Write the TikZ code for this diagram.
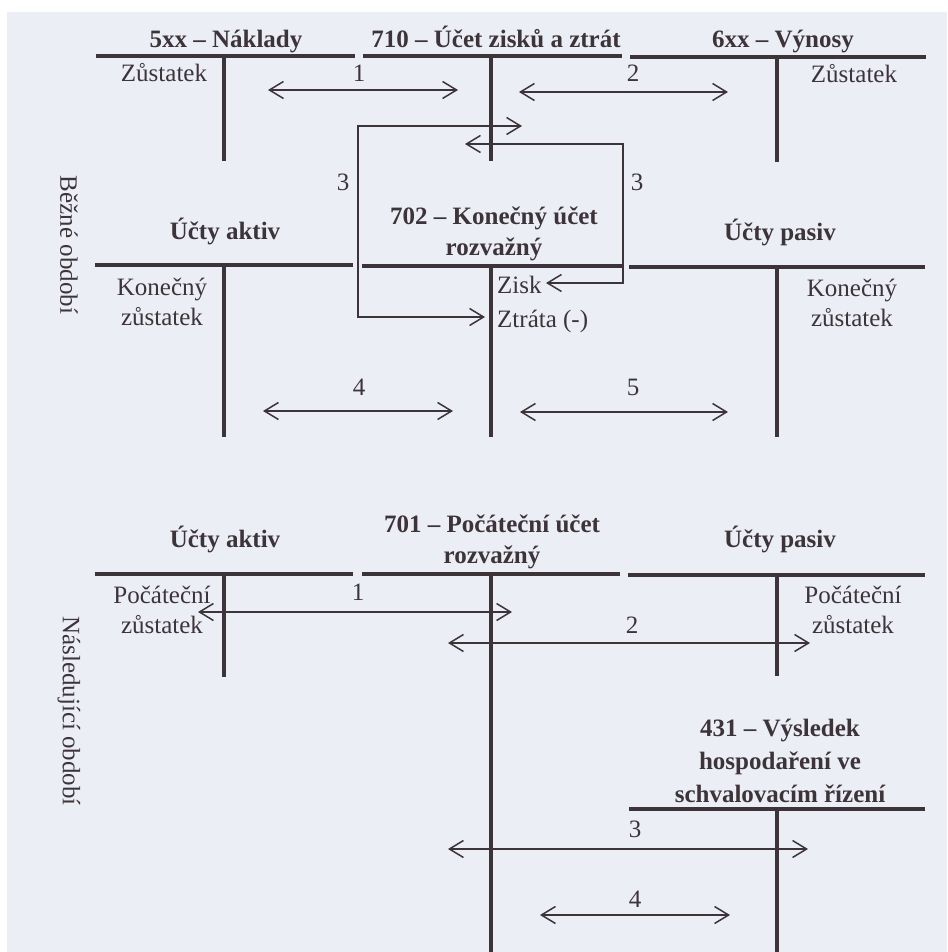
\documentclass[tikz,border=0pt]{standalone}
\usepackage{fontspec}
\setmainfont{Liberation Serif}
\usetikzlibrary{arrows.meta, calc, positioning}
\definecolor{inkoust}{HTML}{3C3438}
\definecolor{papir}{HTML}{ECEEF6}

\begin{document}
\begin{tikzpicture}[x=1pt, y=-1pt, >={Straight Barb[length=14pt, width=17pt]},
  every node/.style={font=\fontsize{25}{30}\selectfont, text=inkoust, inner sep=0pt, anchor=base},
  nazev/.style={font=\fontsize{25}{31}\selectfont\bfseries, align=center},
  osa/.style={line width=4pt, inkoust},
  stred/.style={line width=3.2pt, inkoust},
  sipka/.style={<->, line width=1.5pt, inkoust},
  obdobi/.style={rotate=-90, anchor=center}]

  % === PAPIR ===
  \useasboundingbox (0,0) rectangle (947,952);
  \fill[white] (0,0) rectangle (947,952);
  \fill[papir] (7,12) rectangle (947,952);

  % Sloupce (svisle cary uctu)
  \pgfmathsetmacro{\xL}{224}
  \pgfmathsetmacro{\xS}{491}
  \pgfmathsetmacro{\xP}{777}

  % === BEZNE OBDOBI : 5xx, 710, 6xx ===
  \draw[osa] (96,56) -- (355,56);
  \draw[osa] (363,56) -- (622,56);
  \draw[osa] (630,57) -- (926,57);
  \draw[stred] (\xL,56) -- (\xL,161);
  \draw[stred] (\xS,56) -- (\xS,161);
  \draw[stred] (\xP,57) -- (\xP,162);

  \node[nazev] (naklady) at (226,48) {5xx -- Náklady};
  \node[nazev] (vzz) at (496,48) {710 -- Účet zisků a ztrát};
  \node[nazev] (vynosy) at (783,48) {6xx -- Výnosy};
  \node (zustN) at (164,82) {Zůstatek};
  \node (zustV) at (854,83) {Zůstatek};

  \node (p1) at (359,82) {1};
  \node (p2) at (633,82) {2};
  \coordinate (a1l) at (268,90);
  \coordinate (a1r) at (458,90);
  \coordinate (a2l) at (519,92);
  \coordinate (a2r) at (728,92);
  \draw[sipka] (a1l) -- (a1r);
  \draw[sipka] (a2l) -- (a2r);

  % === BEZNE OBDOBI : aktiva, 702, pasiva ===
  \draw[osa] (95,265) -- (353,265);
  \draw[osa] (362,266) -- (622,266);
  \draw[osa] (629,267) -- (925,267);
  \draw[stred] (\xL,265) -- (\xL,437);
  \draw[stred] (\xS,266) -- (\xS,437);
  \draw[stred] (\xP,267) -- (\xP,437);

  % (u viceradkovych uzlu je base na poslednim radku)
  \node[nazev] (aktivK) at (225,239) {Účty aktiv};
  \node[nazev] (kur) at (494,255) {702 -- Konečný účet\\rozvažný};
  \node[nazev] (pasivK) at (780,240) {Účty pasiv};
  \node[align=center] (konA) at (162,325) {Konečný\\zůstatek};
  \node[align=center] (konP) at (852,326) {Konečný\\zůstatek};
  \node[anchor=base west] (zisk) at (497,293) {Zisk};
  \node[anchor=base west] (ztrata) at (497,327) {Ztráta (-)};

  % Prevod vysledku (3)
  \node (p3a) at (343,190) {3};
  \node (p3b) at (637,190) {3};
  \coordinate (ztrTo) at (522,126);
  \coordinate (ztrFrom) at (485,317);
  \coordinate (ziskTo) at (465,144);
  \coordinate (ziskFrom) at (546,283);
  \draw[sipka] (ztrTo) -- (358,126) |- (ztrFrom);
  \draw[sipka] (ziskTo) -- (623,144) |- (ziskFrom);

  \node (p4) at (359,395) {4};
  \node (p5) at (633,395) {5};
  \coordinate (a4l) at (263,411);
  \coordinate (a4r) at (453,411);
  \coordinate (a5l) at (520,412);
  \coordinate (a5r) at (728,412);
  \draw[sipka] (a4l) -- (a4r);
  \draw[sipka] (a5l) -- (a5r);

  % === NASLEDUJICI OBDOBI : aktiva, 701, pasiva ===
  \draw[osa] (95,574) -- (353,574);
  \draw[osa] (362,574) -- (620,574);
  \draw[osa] (628,575) -- (925,575);
  \draw[stred] (\xL,574) -- (\xL,677);
  \draw[stred] (\xS,574) -- (\xS,952);
  \draw[stred] (\xP,575) -- (\xP,676);

  \node[nazev] (aktivP) at (225,547) {Účty aktiv};
  \node[nazev] (pur) at (492,563) {701 -- Počáteční účet\\rozvažný};
  \node[nazev] (pasivP) at (780,547) {Účty pasiv};
  \node[align=center] (pocA) at (162,633) {Počáteční\\zůstatek};
  \node[align=center] (pocP) at (853,633) {Počáteční\\zůstatek};

  \node (q1) at (358,600) {1};
  \node (q2) at (632,633) {2};
  \coordinate (b1l) at (198,612);
  \coordinate (b1r) at (512,612);
  \coordinate (b2l) at (448,643);
  \coordinate (b2r) at (810,643);
  \draw[sipka] (b1l) -- (b1r);
  \draw[sipka] (b2l) -- (b2r);

  % === 431 ===
  \draw[osa] (629,809) -- (925,809);
  \draw[stred] (\xP,809) -- (\xP,952);
  \node[nazev, font=\fontsize{25}{33}\selectfont\bfseries] (vh) at (780,802) {431 -- Výsledek\\hospodaření ve\\schvalovacím řízení};

  \node (q3) at (635,837) {3};
  \node (q4) at (635,907) {4};
  \coordinate (b3l) at (448,849);
  \coordinate (b3r) at (808,849);
  \coordinate (b4l) at (540,915);
  \coordinate (b4r) at (730,915);
  \draw[sipka] (b3l) -- (b3r);
  \draw[sipka] (b4l) -- (b4r);

  % === OBDOBI ===
  \node[obdobi] (bezne) at (69,245) {Běžné období};
  \node[obdobi] (nasl) at (69,711) {Následující období};

\end{tikzpicture}
\end{document}
